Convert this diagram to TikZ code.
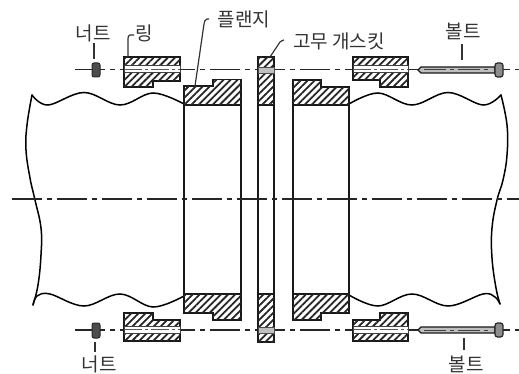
\documentclass[tikz,border=0pt]{standalone}
\usepackage{fontspec}
\setmainfont{Noto Sans CJK KR}
\usetikzlibrary{patterns.meta}
\tikzset{
  part/.style={draw=black!90,line width=1.7pt,line join=miter},
  hatched/.style={part,fill=white,postaction={pattern={Lines[angle=45,distance=5pt,line width=1.8pt]},pattern color=black!85}},
  wall/.style={draw=black!90,line width=1.7pt},
  wavy/.style={draw=black,line width=1.5pt,line cap=round},
  bore/.style={draw=black!75,line width=1pt,fill=white},
  axis/.style={draw=black!85,line width=1.2pt,dash pattern=on 30pt off 5pt on 5pt off 5pt},
  leader/.style={draw=black!80,line width=1.2pt},
  lab/.style={inner sep=0pt,font=\fontsize{19}{21}\selectfont,text=black!80}
}
\begin{document}
\begin{tikzpicture}[x=1pt,y=-1pt]
\useasboundingbox (0,0) rectangle (519,374);
% pipe ends and waves
\draw[wavy] plot[smooth,tension=.7] coordinates {(32,95)(27,125)(26,150)(30,178)(35,200)(41,228)(41,255)(38,285)(33,305)};
\draw[wavy] plot[smooth,tension=.7] coordinates {(501,95)(507,125)(507,155)(503,180)(497,200)(492,228)(492,258)(496,288)(500,304)};
\draw[wavy] plot[smooth,tension=.6] coordinates {(32,95)(48,105)(84,92.5)(120,105)(153,93)(184,104)};
\draw[wavy] plot[smooth,tension=.6] coordinates {(349,104)(378,93)(412,105)(448,92.5)(483,105)(501,95)};
\draw[wavy] plot[smooth,tension=.6] coordinates {(33,305)(37,296)(50,294)(84,306)(120,294)(153,307)(184,296)};
\draw[wavy] plot[smooth,tension=.6] coordinates {(349,295)(378,306)(412,294)(448,306)(483,294)(495,297)(500,304)};
% walls
\foreach \x in {184,241,258,274,293,349} \draw[wall] (\x,105) -- (\x,294);
% axes
\draw[axis] (12,199) -- (519,199);
\draw[axis] (75,69.5) -- (519,69.5);
\draw[axis] (75,330) -- (519,330);
% upper flanges
\draw[hatched] (184,105) -- (184,86) -- (213,86) -- (213,79.5) -- (241,79.5) -- (241,105) -- cycle;
\draw[hatched] (293,105) -- (293,80) -- (321,80) -- (321,87) -- (349,87) -- (349,105) -- cycle;
% lower flanges
\draw[hatched] (184,294) -- (241,294) -- (241,320) -- (213,320) -- (213,313) -- (184,313) -- cycle;
\draw[hatched] (293,294) -- (349,294) -- (349,313) -- (321,313) -- (321,320) -- (293,320) -- cycle;
% gasket
\draw[hatched] (258,57) rectangle (274,105);
\draw[hatched] (258,294) rectangle (274,342);
\draw[draw=black!70,line width=.8pt,fill=black!25] (258,67) rectangle (274,73);
\draw[draw=black!70,line width=.8pt,fill=black!25] (258,327) rectangle (274,333);
% rings
\draw[hatched] (124,57) -- (180,57) -- (180,81) -- (153,81) -- (153,87) -- (124,87) -- cycle;
\draw[hatched] (353,57) -- (408,57) -- (408,87) -- (380,87) -- (380,80) -- (353,80) -- cycle;
\draw[hatched] (124,313) -- (153,313) -- (153,320) -- (180,320) -- (180,341) -- (124,341) -- cycle;
\draw[hatched] (353,320) -- (380,320) -- (380,313) -- (408,313) -- (408,341) -- (353,341) -- cycle;
\draw[bore] (124,66) rectangle (180,73);
\draw[bore] (353,66) rectangle (408,73);
\draw[bore] (124,326) rectangle (180,333);
\draw[bore] (353,326) rectangle (408,333);
% axis through bores
\draw[draw=black!65,line width=1pt,dash pattern=on 18pt off 3pt on 3pt off 3pt] (124,69.5) -- (180,69.5) (353,69.5) -- (408,69.5) (124,329.5) -- (180,329.5) (353,329.5) -- (408,329.5);
% nuts
\draw[draw=black!85,fill=black!70,line width=1pt,rounded corners=2pt] (92,63) rectangle (100,77);
\draw[draw=black!85,fill=black!70,line width=1pt,rounded corners=2pt] (92,323) rectangle (100,338);
% bolts
\draw[draw=black!90,fill=black!25,line width=1.3pt] (418,70) -- (421,67) -- (495,67) -- (495,73) -- (421,73) -- cycle;
\draw[draw=black!90,fill=black!25,line width=1.3pt] (418,330) -- (421,327) -- (495,327) -- (495,333) -- (421,333) -- cycle;
\draw[draw=black!75,line width=1pt,dash pattern=on 22pt off 4pt on 4pt off 4pt] (424,70) -- (492,70) (424,330) -- (492,330);
\draw[draw=black!85,fill=black!45,line width=1.2pt,rounded corners=2.5pt] (495,63) rectangle (503,77);
\draw[draw=black!85,fill=black!45,line width=1.2pt,rounded corners=2.5pt] (495,323) rectangle (503,337);
% labels
\node[lab] (nutT) at (93,33) {너트};
\node[lab] (ringT) at (144,33) {링};
\node[lab] (flange) at (244,19) {플랜지};
\node[lab] (gasket) at (339,41) {고무 개스킷};
\node[lab] (boltT) at (463,31) {볼트};
\node[lab] (nutB) at (99,364) {너트};
\node[lab] (boltB) at (466,364) {볼트};
% leader ends
\coordinate (nutTa) at (94,43);   \coordinate (nutTb) at (94,59);
\coordinate (ringa) at (134,35);  \coordinate (ringb) at (128,57);
\coordinate (flangea) at (209,19);\coordinate (flangeb) at (195,86);
\coordinate (gasketa) at (284,40);\coordinate (gasketb) at (270,57);
\coordinate (boltTa) at (462,44); \coordinate (boltTb) at (462,60);
\coordinate (nutBa) at (95,342);  \coordinate (nutBb) at (95,352);
\coordinate (boltBa) at (464,338);\coordinate (boltBb) at (464,350);
\draw[leader] (nutTa) -- (nutTb);
\draw[leader] (ringa) -- (130,35) to[out=180,in=90] (128,39) -- (ringb);
\draw[leader] (flangea) -- (207,19) to[out=190,in=80] (204,24) -- (flangeb);
\draw[leader] (gasketa) to[out=210,in=55] (280,42) -- (gasketb);
\draw[leader] (boltTa) -- (boltTb);
\draw[leader] (nutBa) -- (nutBb);
\draw[leader] (boltBa) -- (boltBb);
\end{tikzpicture}
\end{document}
